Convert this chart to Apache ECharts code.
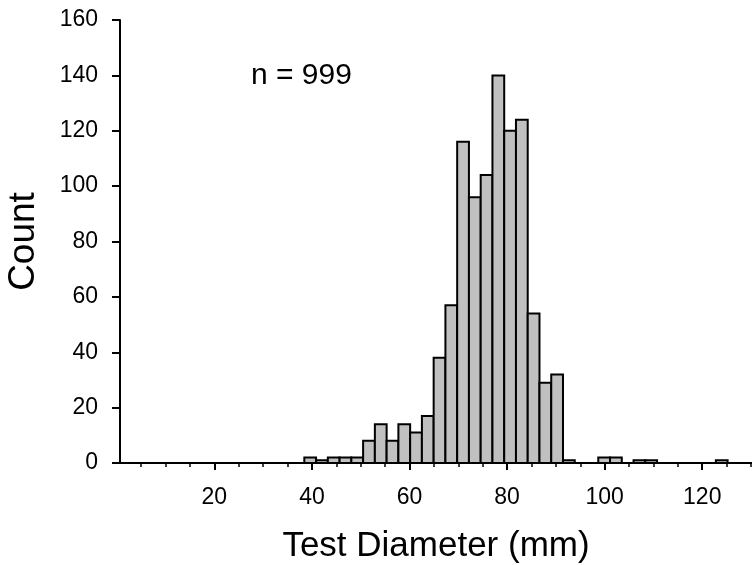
<!DOCTYPE html>
<html>
<head>
<meta charset="utf-8">
<script src="https://cdn.jsdelivr.net/npm/echarts@6/dist/echarts.min.js"></script>
<style>
html,body{margin:0;padding:0;background:#fff;}
#chart{width:752px;height:565px;}
</style>
</head>
<body>
<div id="chart"></div>
<script>
// Histogram data (bin width in mm, first bin start in mm)
const binStart = 38.44;
const binWidth = 2.41;
const counts = [2,1,2,2,2,8,14,8,14,11,17,38,57,116,96,104,140,120,124,54,29,32,1,0,0,2,2,0,1,1,0,0,0,0,0,1];
const xMajorTicks = [20,40,60,80,100,120];
const xMinorTicks = [5,10,15,25,30,35,45,50,55,65,70,75,85,90,95,105,110,115,125,130];
const xTitle = 'Test Diameter (mm)';
const yTitle = 'Count';
const annotation = 'n = 999';

const bins = counts.map((c, i) => [binStart + i * binWidth, binStart + (i + 1) * binWidth, c]);

const font = 'Liberation Sans, Arial, Helvetica, sans-serif';
const xMin = 0.66, xMax = 130.2;

const chart = echarts.init(document.getElementById('chart'));
chart.setOption({
  animation: false,
  backgroundColor: '#fff',
  title: {
    text: annotation,
    left: 246, top: 56,
    textStyle: {fontFamily: font, fontSize: 30, fontWeight: 'normal', color: '#000'}
  },
  grid: {left: 120, right: 0, top: 20, bottom: 102, containLabel: false, outerBoundsMode: 'none'},
  xAxis: [{
    type: 'value', min: xMin, max: xMax,
    name: xTitle, nameLocation: 'middle', nameGap: 66,
    nameTextStyle: {fontFamily: font, fontSize: 35, color: '#000'},
    axisLine: {show: true, lineStyle: {color: '#000', width: 2}},
    axisTick: {show: true, length: 7, lineStyle: {color: '#000', width: 2}, customValues: xMajorTicks},
    axisLabel: {show: true, margin: 23, fontFamily: font, fontSize: 23, color: '#000', customValues: xMajorTicks},
    splitLine: {show: false}
  }, {
    type: 'value', min: xMin, max: xMax, position: 'bottom', gridIndex: 0,
    axisLine: {show: false},
    axisTick: {show: true, length: 4, lineStyle: {color: '#000', width: 1.5}, customValues: xMinorTicks},
    axisLabel: {show: false},
    splitLine: {show: false}
  }],
  yAxis: {
    type: 'value', min: 0, max: 160, interval: 20,
    name: yTitle, nameLocation: 'middle', nameGap: 78, nameRotate: 90,
    nameTextStyle: {fontFamily: font, fontSize: 37, color: '#000'},
    axisLine: {show: true, lineStyle: {color: '#000', width: 2}},
    axisTick: {show: true, length: 8, lineStyle: {color: '#000', width: 2}},
    axisLabel: {margin: 22, fontFamily: font, fontSize: 23, color: '#000'},
    splitLine: {show: false}
  },
  series: [{
    type: 'custom',
    xAxisIndex: 0, yAxisIndex: 0,
    data: bins,
    renderItem: function (params, api) {
      const c = api.value(2);
      if (!c) return null;
      const p0 = api.coord([api.value(0), c]);
      const p1 = api.coord([api.value(1), 0]);
      return {
        type: 'rect',
        shape: {x: p0[0], y: p0[1], width: p1[0] - p0[0], height: p1[1] - p0[1]},
        style: {fill: '#c0c0c0', stroke: '#000', lineWidth: 2}
      };
    }
  }]
});
</script>
</body>
</html>
